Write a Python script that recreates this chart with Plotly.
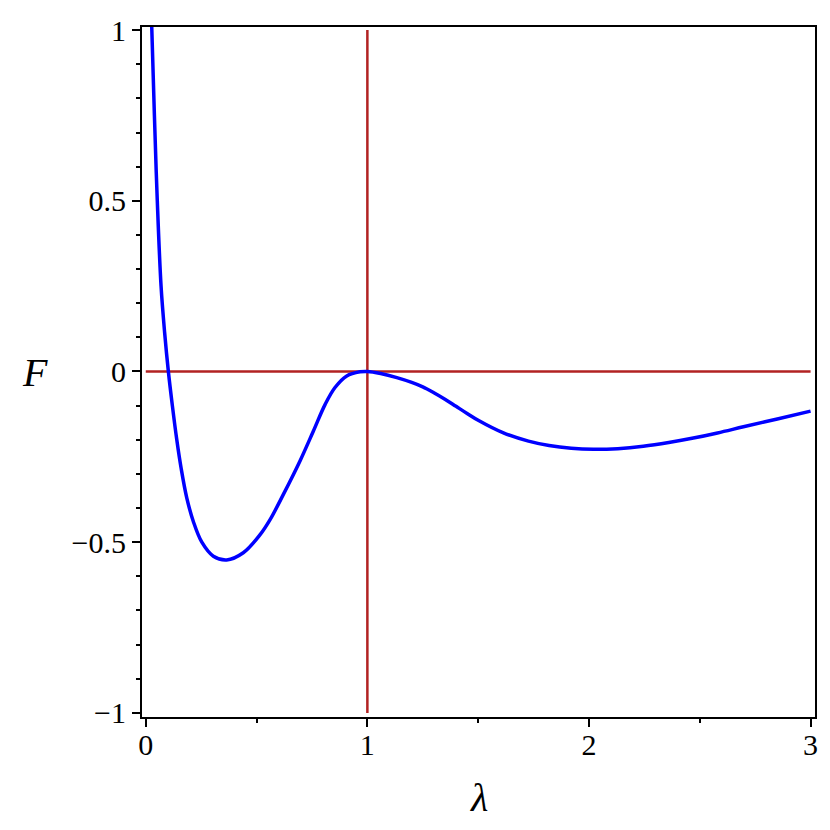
import plotly.graph_objects as go

# Curve F(lambda)
lam = [0.026, 0.039, 0.052, 0.069, 0.085, 0.102, 0.120, 0.140, 0.160, 0.185,
       0.215, 0.253, 0.305, 0.365, 0.440, 0.516, 0.561, 0.621, 0.696, 0.756,
       0.809, 0.854, 0.907, 0.967, 1.000, 1.060, 1.133, 1.200, 1.250, 1.300,
       1.350, 1.400, 1.450, 1.500, 1.614, 1.727, 1.820, 1.920, 2.020, 2.130,
       2.245, 2.360, 2.471, 2.580, 2.697, 2.850, 3.000]
F = [1.03, 0.75, 0.50, 0.25, 0.115, 0.0, -0.100, -0.200, -0.285, -0.370,
     -0.440, -0.500, -0.541, -0.552, -0.531, -0.478, -0.434, -0.360, -0.262, -0.175,
     -0.097, -0.047, -0.013, -0.001, 0.0, -0.006, -0.018, -0.032, -0.045, -0.062,
     -0.081, -0.102, -0.123, -0.143, -0.180, -0.204, -0.217, -0.225, -0.228, -0.226,
     -0.219, -0.208, -0.195, -0.180, -0.162, -0.139, -0.116]

# Reference lines
hline_x = [0, 3]
hline_y = [0, 0]
vline_x = [1, 1]
vline_y = [-1, 1]

xticks = [0, 1, 2, 3]
yticks = [-1, -0.5, 0, 0.5, 1]
yticklabels = ["\u22121", "\u22120.5", "0", "0.5", "1"]

red = "#B22222"
fig = go.Figure()
fig.add_trace(go.Scatter(x=hline_x, y=hline_y, mode="lines",
                         line=dict(color=red, width=2.5), showlegend=False))
fig.add_trace(go.Scatter(x=vline_x, y=vline_y, mode="lines",
                         line=dict(color=red, width=2.5), showlegend=False))
fig.add_trace(go.Scatter(x=lam, y=F, mode="lines",
                         line=dict(color="#0000FF", width=3.5, shape="spline", smoothing=1.0),
                         showlegend=False))

tickfont = dict(family="Liberation Serif", size=30, color="black")
fig.update_layout(
    width=830, height=830,
    margin=dict(l=142, r=15, t=27, b=113),
    plot_bgcolor="white", paper_bgcolor="white",
    xaxis=dict(range=[-0.017, 3.02], tickvals=xticks, ticktext=[str(v) for v in xticks],
               showline=True, linecolor="black", linewidth=2, mirror=True,
               ticks="outside", ticklen=8, tickwidth=2, tickcolor="black",
               ticklabelstandoff=-8,
               showgrid=False, zeroline=False, tickfont=tickfont,
               minor=dict(dtick=0.5, tick0=0, ticks="outside", ticklen=4, tickwidth=2, tickcolor="black")),
    yaxis=dict(range=[-1.012, 1.009], tickvals=yticks, ticktext=yticklabels,
               showline=True, linecolor="black", linewidth=2, mirror=True,
               ticks="outside", ticklen=8, tickwidth=2, tickcolor="black",
               showgrid=False, zeroline=False, tickfont=tickfont,
               minor=dict(dtick=0.1, tick0=0, ticks="outside", ticklen=4, tickwidth=2, tickcolor="black")),
    annotations=[
        dict(text="<i>λ</i>", xref="paper", yref="paper", x=0.5, y=0, yshift=-80,
             xanchor="center", yanchor="middle", showarrow=False,
             font=dict(family="Liberation Serif", size=40, color="black")),
        dict(text="<i>F</i>", xref="paper", yref="paper", x=0, y=0.5, xshift=-107,
             xanchor="center", yanchor="middle", showarrow=False,
             font=dict(family="Liberation Serif", size=40, color="black")),
    ],
)
fig.write_html("out.html", config={"displayModeBar": False},
               post_script="document.body.style.margin='0px';document.body.style.overflow='hidden';")
